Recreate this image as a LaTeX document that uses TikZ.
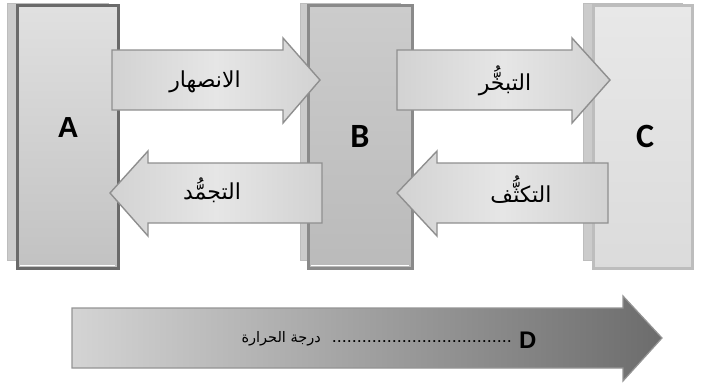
\documentclass[tikz,border=0pt]{standalone}
\usepackage{fontspec}
\TeXXeTstate=1
\newfontfamily\arabicfont[Script=Arabic]{DejaVu Sans}
\newfontfamily\capsfont{Carlito}
\newfontfamily\latinsans{Liberation Sans}
\definecolor{shadowfill}{HTML}{CBCBCB}
\definecolor{shadowline}{HTML}{BDBDBD}
\definecolor{lineA}{HTML}{6A6A6A}
\definecolor{lineB}{HTML}{8A8A8A}
\definecolor{lineC}{HTML}{BDBDBD}
\definecolor{arrowline}{HTML}{8F8F8F}
\definecolor{arrowside}{HTML}{D2D2D2}
\definecolor{arrowmid}{HTML}{E6E6E6}
\definecolor{tempL}{HTML}{D4D4D4}
\definecolor{tempR}{HTML}{6C6C6C}
\begin{document}
\begin{tikzpicture}[x=1pt,y=-1pt,
  backplate/.style={fill=shadowfill, draw=shadowline, line width=1},
  phasebox/.style={line width=3, draw=#1},
  blockarrow/.style={draw=arrowline, line width=1.4, line join=miter,
    left color=arrowside, right color=arrowside, middle color=arrowmid},
  arlabel/.style={font=\arabicfont\fontsize{22}{22}\selectfont, inner sep=0},
  letter/.style={font=\capsfont\bfseries\fontsize{34}{34}\selectfont, inner sep=0},
]
\useasboundingbox (0,0) rectangle (701,384);

% offset plates behind the three phase columns
\path[backplate] (7,3) rectangle (108,260);
\path[backplate] (300,3) rectangle (400,260);
\path[backplate] (583,3) rectangle (682,260);

% phase columns
\path[phasebox=lineA, top color=white!88!black, bottom color=white!76!black] (17,5) rectangle (118,268);
\path[phasebox=lineB, top color=white!80!black, bottom color=white!73!black] (308,5) rectangle (412,268);
\path[phasebox=lineC, top color=white!91!black, bottom color=white!86!black] (593,5) rectangle (692,268);
\draw[white, line width=1] (20,265) -- (115,265);
\draw[white, line width=1] (311,265) -- (409,265);

% column letters
\node[letter, font=\latinsans\bfseries\fontsize{29}{29}\selectfont] (A) at (68,128) {A};
\node[letter] (B) at (360,136) {B};
\node[letter] (C) at (645,136) {C};

% transitions to the right
\path[blockarrow] (112,50) -- (283,50) -- (283,38) -- (320,80) -- (283,123) -- (283,110) -- (112,110) -- cycle;
\path[blockarrow] (397,50) -- (572,50) -- (572,38) -- (610,80) -- (572,123) -- (572,110) -- (397,110) -- cycle;
% transitions to the left
\path[blockarrow] (322,163) -- (148,163) -- (148,151) -- (110,193) -- (148,236) -- (148,223) -- (322,223) -- cycle;
\path[blockarrow] (608,163) -- (437,163) -- (437,151) -- (397,193) -- (437,236) -- (437,223) -- (608,223) -- cycle;

\node[arlabel] (melt) at (205,82) {\beginR الانصهار\endR};
\node[arlabel] (boil) at (505,81) {\beginR التبخُّر\endR};
\node[arlabel] (freeze) at (212,190) {\beginR التجمُّد\endR};
\node[arlabel] (cond) at (521,190) {\beginR التكثُّف\endR};

% temperature axis
\path[draw=white!58!black, line width=1.2, left color=tempL, right color=tempR]
  (72,308) -- (623,308) -- (623,296) -- (662,338) -- (623,381) -- (623,368) -- (72,368) -- cycle;
\node[inner sep=0, font=\latinsans\bfseries\fontsize{24}{24}\selectfont, anchor=west] (D) at (519,340) {D};
\node[inner sep=0, font=\latinsans\fontsize{18}{18}\selectfont, anchor=east] (dots) at (512,342) {....................................};
\node[inner sep=0, font=\arabicfont\fontsize{14.5}{14.5}\selectfont, anchor=east] (temp) at (321,339) {\beginR درجة الحرارة\endR};
\end{tikzpicture}
\end{document}
